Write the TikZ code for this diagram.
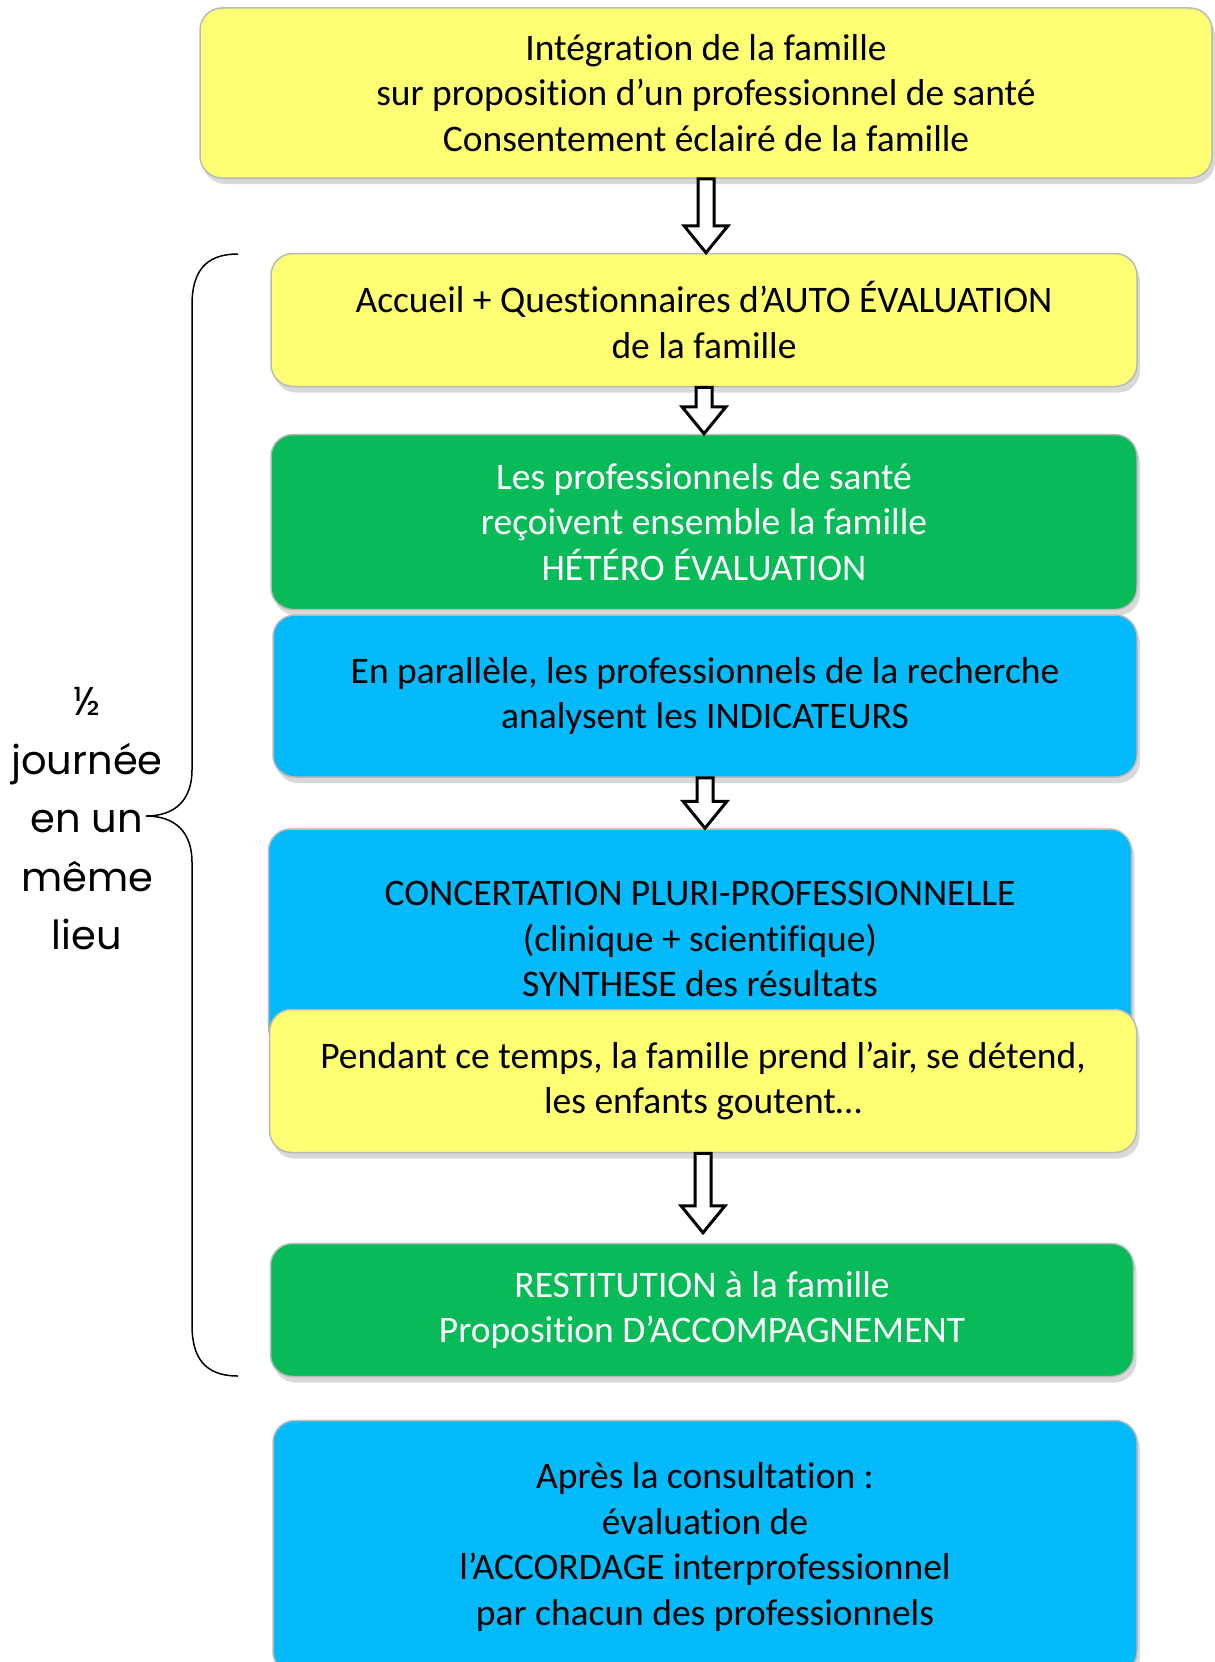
\documentclass[tikz,border=0pt]{standalone}
\usepackage{fontspec}
\setmainfont[Ligatures=NoCommon]{Carlito}
\newfontfamily\lieufont{Poppins}
\usepackage{tikz}
\usetikzlibrary{calc,shadows}
\definecolor{jaunef}{RGB}{255,255,115}
\definecolor{vertf}{RGB}{8,186,88}
\definecolor{bleuf}{RGB}{5,186,250}

\begin{document}
\begin{tikzpicture}[x=1pt,y=-1pt,
    boite/.style={rounded corners=22pt, draw=gray!55, line width=1.5pt,
        align=center, inner sep=0pt,
        font=\fontsize{37.5}{45.6}\selectfont,
        drop shadow={shadow xshift=3pt, shadow yshift=-6pt, opacity=0.3}},
    jaune/.style={boite, fill=jaunef, text=black},
    vert/.style={boite, fill=vertf, text=white},
    bleu/.style={boite, fill=bleuf, text=black},
    flech/.style={draw=black, line width=3pt, fill=white, line join=miter,
        to path={let \p1=(\tikztostart), \p2=(\tikztotarget) in
        (\x1-8pt,\y1) -- (\x1-8pt,\y2+27pt) -- (\x1-22pt,\y2+27pt) -- (\x1,\y2)
        -- (\x1+22pt,\y2+27pt) -- (\x1+8pt,\y2+27pt) -- (\x1+8pt,\y1) -- cycle}}]
\useasboundingbox (0,0) rectangle (1215,1662);
% les etapes
\node[jaune, minimum width=1012, minimum height=170] (integ) at (706,93)
    {Intégration de la famille\\sur proposition d’un professionnel de santé\\Consentement éclairé de la famille};
\node[jaune, minimum width=866, minimum height=133] (accueil) at (704,320)
    {Accueil + Questionnaires d’AUTO ÉVALUATION\\de la famille};
\node[vert, minimum width=866, minimum height=175] (hetero) at (704,522)
    {Les professionnels de santé\\reçoivent ensemble la famille\\HÉTÉRO ÉVALUATION};
\node[bleu, minimum width=864, minimum height=162] (parallele) at (705,696)
    {En parallèle, les professionnels de la recherche\\analysent les INDICATEURS};
\node[bleu, minimum width=863, minimum height=220] (concert) at (700,939)
    {CONCERTATION PLURI-PROFESSIONNELLE\\(clinique + scientifique)\\SYNTHESE des résultats};
\node[jaune, minimum width=867, minimum height=143] (pendant) at (703,1081)
    {Pendant ce temps, la famille prend l’air, se détend,\\les enfants goutent…};
\node[vert, minimum width=863, minimum height=133] (restit) at (702,1310)
    {RESTITUTION à la famille\\Proposition D’ACCOMPAGNEMENT};
\node[bleu, minimum width=864, minimum height=253] (apres) at (705,1547)
    {Après la consultation :\\évaluation de\\l’ACCORDAGE interprofessionnel\\par chacun des professionnels};
% les fleches
\draw[flech] (integ.south) to (accueil.north);
\draw[flech] (accueil.south) to (hetero.north);
\draw[flech] (parallele.south) to (concert.north);
\draw[flech] (pendant.south) to ($(restit.north)+(0,-10)$);
% accolade
\draw[line width=1.5pt]
    (238,254) .. controls (205,254) and (192,272) .. (192,305) -- (192,770)
    .. controls (192,800) and (175,816) .. (146,816)
    .. controls (175,816) and (192,832) .. (192,862) -- (192,1325)
    .. controls (192,1358) and (205,1376) .. (238,1376);
\node[align=center, font=\lieufont\fontsize{40}{58.5}\selectfont] (demi) at (87,819)
    {½\\journée\\en un\\même\\lieu};
\end{tikzpicture}
\end{document}
